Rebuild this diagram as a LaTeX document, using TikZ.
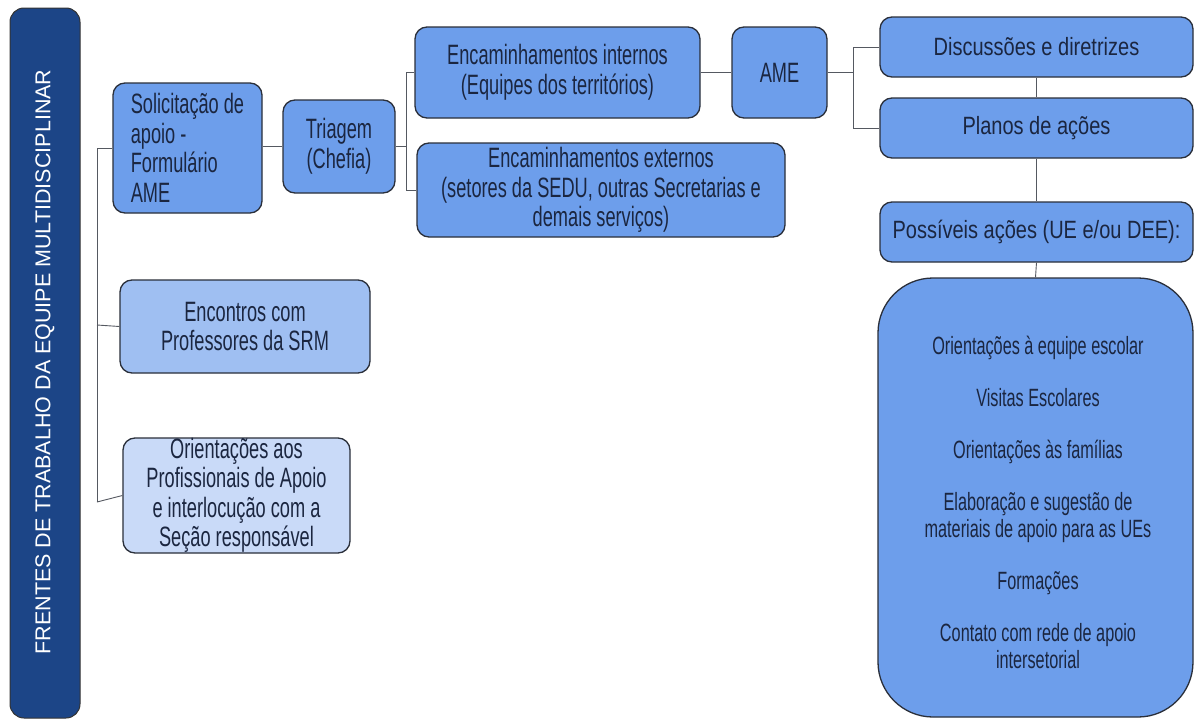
\documentclass[tikz,border=0pt]{standalone}
\usepackage{fontspec}
\setmainfont{Liberation Sans}
\newfontfamily\condA[FakeStretch=0.65]{Liberation Sans}
\newfontfamily\condB[FakeStretch=0.80]{Liberation Sans}
\definecolor{barblue}{HTML}{1C4587}
\definecolor{midblue}{HTML}{6D9EEB}
\definecolor{lightblue}{HTML}{9FBFF2}
\definecolor{paleblue}{HTML}{C9DAF8}
\definecolor{txt}{HTML}{1B2640}
\definecolor{edge}{HTML}{2A2F3A}
\begin{document}
\begin{tikzpicture}[x=1pt,y=-1pt,
  box/.style={draw=edge, line width=1.3pt, rounded corners=12pt, inner sep=0pt,
    text=txt, align=center, fill=midblue, font=\condA\fontsize{28}{29.5}\selectfont},
  rbox/.style={box, font=\condB\fontsize{25}{30}\selectfont},
  conn/.style={draw=edge!80, line width=0.9pt}]
\useasboundingbox (0,0) rectangle (1195,720);
\fill[white] (0,0) rectangle (1195,720);

% left bar
\node (bar) [draw=black!80, line width=1pt, fill=barblue, rounded corners=14pt,
  minimum width=70pt, minimum height=710pt, inner sep=0pt] at (45,363) {};
\node (bartext) [rotate=90, text=white, font=\fontsize{21.5}{24}\selectfont] at (45,362)
  {FRENTES DE TRABALHO DA EQUIPE MULTIDISCIPLINAR};

% left column
\node (sol) [box, align=left, minimum width=149pt, minimum height=130pt] at (187.5,148)
  {Solicitação de\\apoio -\\Formulário\\AME};
\node (tri) [box, minimum width=112pt, minimum height=93pt] at (339,146.5)
  {Triagem\\(Chefia)};
\node (enc) [box, fill=lightblue, minimum width=250pt, minimum height=93pt] at (245,326.5)
  {Encontros com\\Professores da SRM};
\node (ori) [box, fill=paleblue, minimum width=227pt, minimum height=115pt] at (236.5,495.5)
  {Orientações aos\\Profissionais de Apoio\\e interlocução com a\\Seção responsável};

% middle
\node (eint) [box, minimum width=285pt, minimum height=91pt] at (557.5,72.5)
  {Encaminhamentos internos\\(Equipes dos territórios)};
\node (ame) [box, minimum width=95pt, minimum height=91pt] at (779.5,72.5) {AME};
\node (eext) [box, minimum width=368pt, minimum height=94pt] at (601,190)
  {Encaminhamentos externos\\(setores da SEDU, outras Secretarias e\\demais serviços)};

% right column
\node (disc) [rbox, minimum width=313pt, minimum height=60pt] at (1036.5,47)
  {Discussões e diretrizes};
\node (plan) [rbox, minimum width=313pt, minimum height=60pt] at (1036.5,128)
  {Planos de ações};
\node (poss) [rbox, minimum width=313pt, minimum height=60pt] at (1036.5,232)
  {Possíveis ações (UE e/ou DEE):};
\node (big) [box, rounded corners=55pt, minimum width=315pt, minimum height=439pt] at (1035.5,497.5) {};
\node (bigtext) [text=txt, align=center, font=\condA\fontsize{25}{27}\selectfont] at (1038,502)
  {Orientações à equipe escolar\\[25pt]
   Visitas Escolares\\[25pt]
   Orientações às famílias\\[25pt]
   Elaboração e sugestão de\\materiais de apoio para as UEs\\[25pt]
   Formações\\[25pt]
   Contato com rede de apoio\\intersetorial};

% connectors: left tree
\coordinate (la) at (97,148);
\coordinate (lb) at (97,325);
\coordinate (lc) at (97,502);
\draw[conn] (sol.west) -- (la) -- (lc);
\draw[conn] (lb) -- (enc.west);
\draw[conn] (lc) -- (ori.west);
\draw[conn] (tri.west -| sol.east) -- (tri.west);

% triagem fork
\coordinate (ta) at (406,146.5);
\coordinate (tb) at (406,72.5);
\coordinate (tc) at (406,190);
\draw[conn] (tri.east) -- (ta);
\draw[conn] (tb) -- (tc);
\draw[conn] (tb) -- (eint.west);
\draw[conn] (tc) -- (eext.west);
\draw[conn] (eint.east) -- (ame.west);

% AME fork
\coordinate (aa) at (853,72.5);
\coordinate (ab) at (853,47);
\coordinate (ac) at (853,128);
\draw[conn] (ame.east) -- (aa);
\draw[conn] (ab) -- (ac);
\draw[conn] (ab) -- (disc.west);
\draw[conn] (ac) -- (plan.west);

% right vertical chain
\draw[conn] (disc.south) -- (plan.north);
\draw[conn] (plan.south) -- (poss.north);
\draw[conn] (poss.south) -- (big.north);
\end{tikzpicture}
\end{document}
